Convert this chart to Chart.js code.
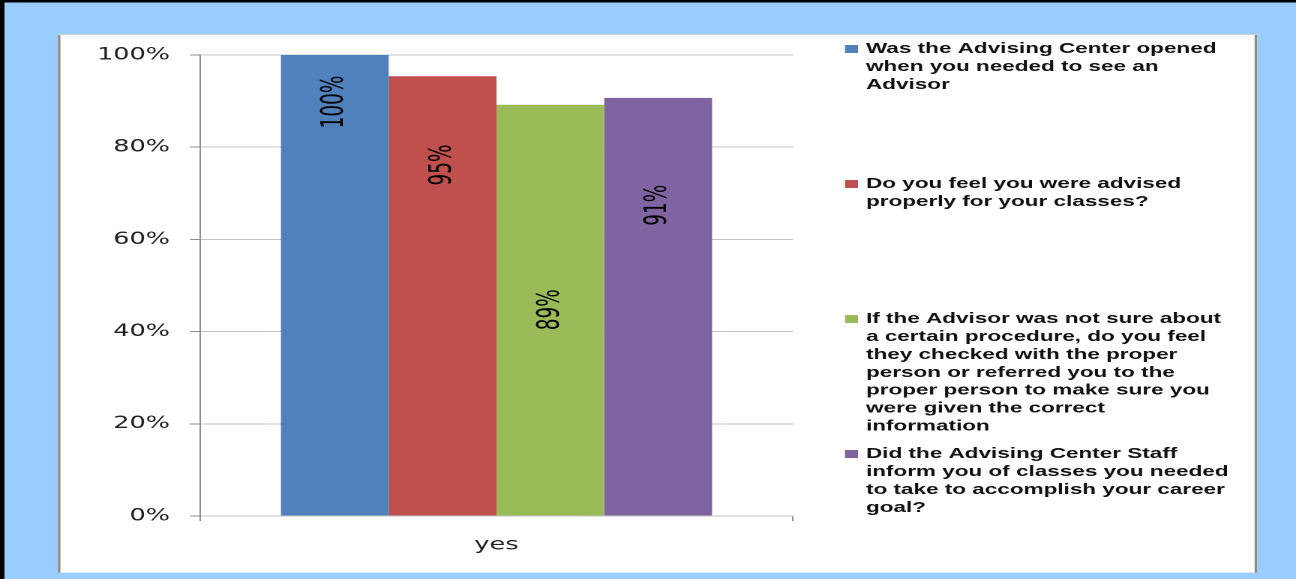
<!DOCTYPE html>
<html>
<head>
<meta charset="utf-8">
<script src="https://cdn.jsdelivr.net/npm/chart.js@4.4.1/dist/chart.umd.min.js"></script>
<style>
  html, body { margin: 0; padding: 0; overflow: hidden; background: #99CCFF; }
  #wrap { width: 864px; height: 579px; transform: scaleX(1.5); transform-origin: 0 0; }
</style>
</head>
<body>
<div id="wrap"><canvas id="c" width="864" height="579"></canvas></div>
<script>
// ---- data ----
const categories = ["yes"];
const seriesNames = [
  ["Was the Advising Center opened", "when you needed to see an", "Advisor"],
  ["Do you feel you were advised", "properly for your classes?"],
  ["If the Advisor was not sure about", "a certain procedure, do you feel", "they checked with the proper", "person or referred you to the", "proper person to make sure you", "were given the correct", "information"],
  ["Did the Advising Center Staff", "inform you of classes you needed", "to take to accomplish your career", "goal?"]
];
const seriesValues = [[100], [95.4], [89.2], [90.7]];
const seriesColors = ["#4F81BD", "#C0504D", "#9BBB59", "#8064A2"];
const yTicks = [0, 20, 40, 60, 80, 100];

// ---- styling helpers ----
const SX = 1.5; // horizontal stretch of the picture
const labelFrac = [0.898, 0.798, 0.501, 0.743]; // where along each bar its label sits

const backgroundPlugin = {
  id: 'bgPanel',
  beforeDraw(chart) {
    const ctx = chart.ctx;
    ctx.save();
    ctx.fillStyle = '#99CCFF';
    ctx.fillRect(0, 0, chart.width, chart.height);
    ctx.fillStyle = '#000';
    ctx.fillRect(0, 0, 3, chart.height);
    ctx.fillRect(0, 0, chart.width, 2.5);
    const l = 58 / SX, r = 1257 / SX, t = 34, b = 572.7;
    ctx.fillStyle = '#fff';
    ctx.fillRect(l, t, r - l, b - t);
    ctx.fillStyle = '#8c8c8c';
    ctx.fillRect(l, t, 1.6, b - t);
    ctx.fillRect(r - 1.6, t, 1.6, b - t);
    ctx.fillStyle = '#d0d0d0';
    ctx.fillRect(l, t, r - l, 1);
    ctx.restore();
  }
};

const barLabelPlugin = {
  id: 'barLabels',
  afterDatasetsDraw(chart) {
    const ctx = chart.ctx;
    ctx.save();
    ctx.font = '20.5px "Liberation Sans Narrow", "DejaVu Sans Condensed", "Liberation Sans", sans-serif';
    ctx.fillStyle = '#000';
    ctx.textAlign = 'center';
    ctx.textBaseline = 'middle';
    chart.data.datasets.forEach((ds, i) => {
      const meta = chart.getDatasetMeta(i);
      meta.data.forEach((bar, j) => {
        const v = ds.data[j];
        const y = bar.base + (bar.y - bar.base) * labelFrac[i];
        ctx.save();
        ctx.translate(bar.x, y);
        ctx.rotate(-Math.PI / 2);
        ctx.fillText(Math.round(v) + '%', 0, 0);
        ctx.restore();
      });
    });
    ctx.restore();
  }
};

const legendPlugin = {
  id: 'sideLegend',
  afterDraw(chart) {
    const ctx = chart.ctx;
    ctx.save();
    ctx.font = 'bold 15px "Liberation Sans", Arial, sans-serif';
    ctx.textBaseline = 'middle';
    ctx.textAlign = 'left';
    const boxX = 845 / SX, boxW = 13 / SX, textX = 866 / SX;
    const firstY = 49, step = 135, lineH = 17.9;
    chart.data.datasets.forEach((ds, i) => {
      const y0 = firstY + i * step;
      ctx.fillStyle = ds.backgroundColor;
      ctx.fillRect(boxX, y0 - 4, boxW, 8);
      ctx.fillStyle = '#111';
      ds.label.forEach((line, k) => ctx.fillText(line, textX, y0 + k * lineH));
    });
    ctx.restore();
  }
};

new Chart(document.getElementById('c'), {
  type: 'bar',
  data: {
    labels: categories,
    datasets: seriesNames.map((name, i) => ({
      label: name,
      data: seriesValues[i],
      backgroundColor: seriesColors[i],
      borderWidth: 0,
      categoryPercentage: 0.727,
      barPercentage: 1.0
    }))
  },
  options: {
    responsive: false,
    animation: false,
    devicePixelRatio: 2,
    layout: { padding: { left: 0, right: 864 - 793 / SX, top: 55, bottom: 0 } },
    plugins: { legend: { display: false }, tooltip: { enabled: false } },
    scales: {
      x: {
        afterFit(scale) { scale.height = 63; },
        grid: { display: true, drawOnChartArea: false, offset: true, tickLength: 5, color: '#8c8c8c', lineWidth: 1 },
        border: { display: true, color: '#c4c4c4', width: 1 },
        ticks: { color: '#222', padding: 14, font: { family: '"DejaVu Sans", sans-serif', size: 17 } }
      },
      y: {
        min: 0, max: 100,
        afterFit(scale) { scale.width = 200 / SX; },
        afterBuildTicks(scale) { scale.ticks = yTicks.map(v => ({ value: v })); },
        grid: { color: '#c4c4c4', lineWidth: 1, tickLength: 10 / SX, tickColor: '#8c8c8c' },
        border: { display: true, color: '#8c8c8c', width: 1 },
        ticks: {
          color: '#222', padding: 20 / SX,
          font: { family: '"DejaVu Sans", sans-serif', size: 17 },
          callback: v => v + '%'
        }
      }
    }
  },
  plugins: [backgroundPlugin, barLabelPlugin, legendPlugin]
});
</script>
</body>
</html>
